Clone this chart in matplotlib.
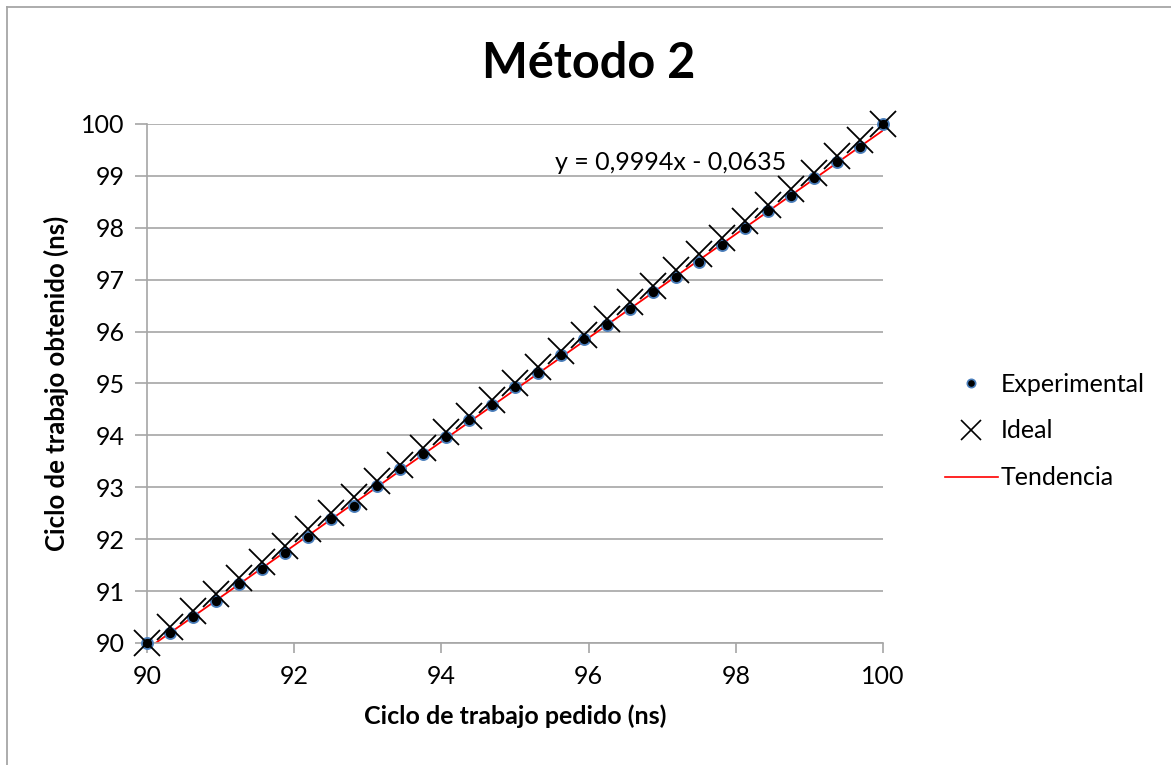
import matplotlib.pyplot as plt
import numpy as np
from matplotlib.lines import Line2D

# Data
x_pedido = [90, 90.3125, 90.625, 90.9375, 91.25, 91.5625, 91.875, 92.1875, 92.5,
            92.8125, 93.125, 93.4375, 93.75, 94.0625, 94.375, 94.6875, 95.0,
            95.3125, 95.625, 95.9375, 96.25, 96.5625, 96.875, 97.1875, 97.5,
            97.8125, 98.125, 98.4375, 98.75, 99.0625, 99.375, 99.6875, 100]
y_experimental = [90.0, 90.19, 90.51, 90.80, 91.14, 91.43, 91.74, 92.04, 92.38,
                  92.64, 93.02, 93.35, 93.65, 93.97, 94.29, 94.59, 94.94,
                  95.21, 95.55, 95.85, 96.13, 96.44, 96.76, 97.05, 97.34,
                  97.66, 98.00, 98.33, 98.62, 98.95, 99.26, 99.55, 100.0]
y_ideal = x_pedido
pendiente = 0.9994
ordenada = -0.0635
x_ticks = [90, 92, 94, 96, 98, 100]
y_ticks = [90, 91, 92, 93, 94, 95, 96, 97, 98, 99, 100]

FONT = 'Lato'
GRIS = '#a6a6a6'
W, H = 1171, 765

plt.rcParams['font.family'] = [FONT, 'DejaVu Sans']

fig = plt.figure(figsize=(W / 100, H / 100), dpi=100)

# chart area border (only left and top are visible in the crop)
fig.add_artist(Line2D([6.5 / W, 6.5 / W], [0, 1 - 6.5 / H], transform=fig.transFigure,
                      color=GRIS, lw=1.3))
fig.add_artist(Line2D([6.5 / W, 1], [1 - 6.5 / H, 1 - 6.5 / H], transform=fig.transFigure,
                      color=GRIS, lw=1.3))

ax = fig.add_axes([147 / W, (H - 643) / H, 736 / W, 519 / H])

ax.set_xlim(90, 100)
ax.set_ylim(90, 100)
ax.set_xticks(x_ticks)
ax.set_yticks(y_ticks)
ax.set_xticklabels([str(v) for v in x_ticks])
ax.set_yticklabels([str(v) for v in y_ticks])

ax.grid(axis='y', color=GRIS, lw=1.2)
ax.set_axisbelow(True)
for side in ['top', 'right']:
    ax.spines[side].set_visible(False)
for side in ['left', 'bottom']:
    ax.spines[side].set_color(GRIS)
    ax.spines[side].set_linewidth(1.2)
ax.tick_params(axis='both', colors=GRIS, labelcolor='black', labelsize=18, width=1.2)
ax.tick_params(axis='x', length=7, pad=9)
ax.tick_params(axis='y', length=9, pad=7)

# trend line
xt = np.array([90, 100])
ax.plot(xt, pendiente * xt + ordenada, color='#ff0000', lw=1.3, zorder=2, clip_on=True)

ax.plot(x_pedido, y_experimental, linestyle='none', marker='o', ms=8,
        markerfacecolor='black', markeredgecolor='#4a7ebb', markeredgewidth=1.3,
        zorder=3, clip_on=False)
ax.plot(x_pedido, y_ideal, linestyle='none', marker='x', ms=19, mew=1.3,
        color='black', zorder=4, clip_on=False)

ax.text(0.554, 0.925, 'y = 0,9994x - 0,0635', transform=ax.transAxes, fontsize=18,
        ha='left', va='center')

fig.text(589 / W, 1 - 63 / H, 'Método 2', fontsize=35, fontweight='bold',
         ha='center', va='center')
ax.set_xlabel('Ciclo de trabajo pedido (ns)', fontsize=18, fontweight='bold', labelpad=12)
ax.set_ylabel('Ciclo de trabajo obtenido (ns)', fontsize=18.5, fontweight='bold', labelpad=9)

handles = [
    Line2D([], [], linestyle='none', marker='o', ms=6, markerfacecolor='black',
           markeredgecolor='#4a7ebb', markeredgewidth=1.2),
    Line2D([], [], linestyle='none', marker='x', ms=14, mew=1.2, color='black'),
    Line2D([], [], color='#ff0000', lw=1.2),
]
ax.legend(handles, ['Experimental', 'Ideal', 'Tendencia'], loc='center left',
          bbox_to_anchor=(945 / W, 1 - 431 / H), bbox_transform=fig.transFigure,
          frameon=False, fontsize=18, handlelength=2.1, handletextpad=0.12,
          labelspacing=0.95, borderaxespad=0, borderpad=0)

fig.savefig('out.png', dpi=100)
